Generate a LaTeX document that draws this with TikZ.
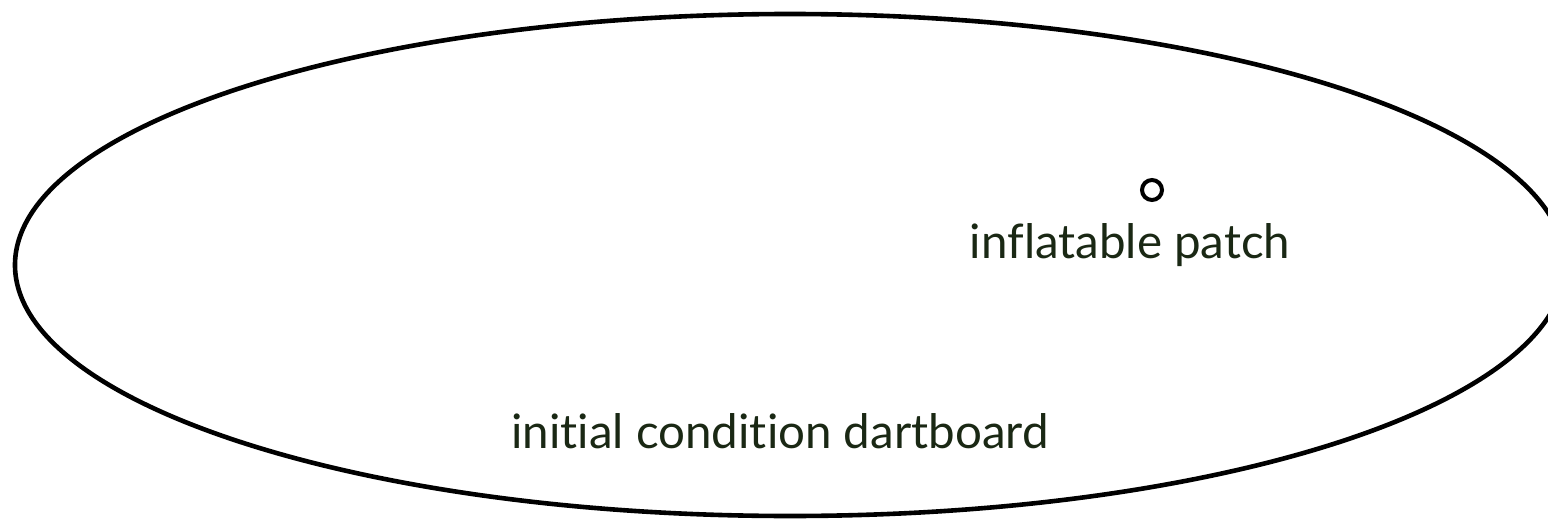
\documentclass[tikz,border=0pt]{standalone}
\usepackage{fontspec}
\setmainfont{Lato}[Ligatures=NoCommon]
\definecolor{txtgreen}{HTML}{1A2814}
\begin{document}
\begin{tikzpicture}[x=1pt,y=-1pt,
  board/.style={draw=black,line width=4.6pt},
  patchdot/.style={draw=black,line width=4pt,circle,minimum size=20pt,inner sep=0pt},
  lbl/.style={text=txtgreen,font=\fontsize{47.5}{54}\selectfont,inner sep=0pt,anchor=base}]
\useasboundingbox (0,0) rectangle (1548,519);
\begin{scope}
\clip (0,0) rectangle (1548,519);
\draw[board] (790,265) ellipse [x radius=775, y radius=251];
\end{scope}
\node[patchdot] (dot) at (1152,190) {};
\node[lbl] (patch) at (1130,258) {inflatable patch};
\node[lbl] (dart) at (780,448) {initial condition dartboard};
\end{tikzpicture}
\end{document}
